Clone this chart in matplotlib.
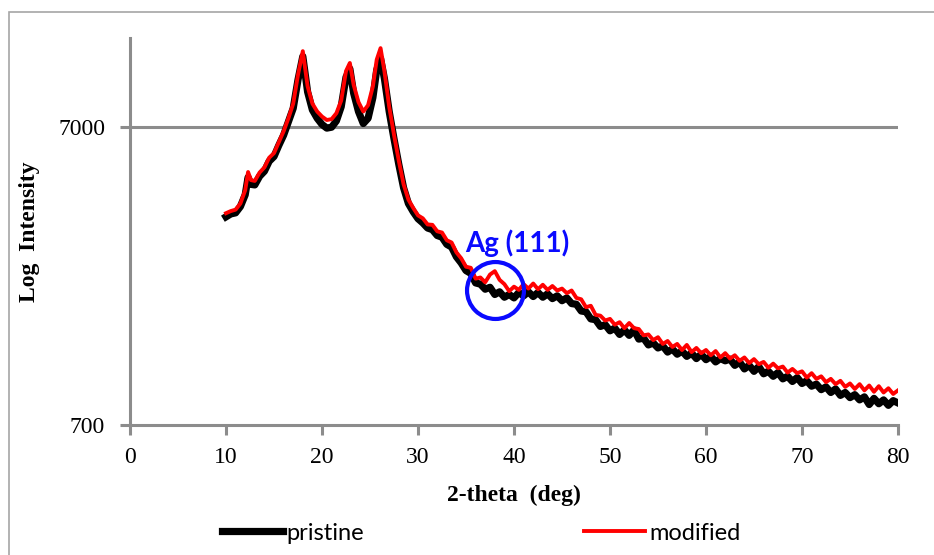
import matplotlib
matplotlib.use("Agg")
import matplotlib.pyplot as plt
from matplotlib.patches import Rectangle

# 2-theta sampling (deg)
two_theta = [10, 10.5, 11, 11.5, 12, 12.3, 12.6, 13, 13.5, 14, 14.5, 15, 15.5, 16,
             16.5, 17, 17.5, 18, 18.5, 19, 19.5, 20, 20.5, 21, 21.5, 22, 22.5, 22.9,
             23.3, 23.8, 24.3, 24.8, 25.3, 25.7, 26.1, 26.5, 27, 27.5, 28, 28.5,
             29, 29.5, 30, 30.5, 31, 31.5, 32, 32.5, 33, 33.5, 34, 34.5, 35, 35.5,
             36, 36.5, 37, 37.5, 38, 38.5, 39, 39.5, 40, 40.5, 41, 41.5, 42, 42.5,
             43, 43.5, 44, 44.5, 45, 45.5, 46, 46.5, 47, 47.5, 48, 48.5, 49, 49.5,
             50, 50.5, 51, 51.5, 52, 52.5, 53, 53.5, 54, 54.5, 55, 55.5, 56, 56.5,
             57, 57.5, 58, 58.5, 59, 59.5, 60, 60.5, 61, 61.5, 62, 62.5, 63, 63.5,
             64, 64.5, 65, 65.5, 66, 66.5, 67, 67.5, 68, 68.5, 69, 69.5, 70, 70.5,
             71, 71.5, 72, 72.5, 73, 73.5, 74, 74.5, 75, 75.5, 76, 76.5, 77, 77.5,
             78, 78.5, 79, 79.5, 80]

pristine = [3500, 3580, 3610, 3790, 4150, 4750, 4500, 4480, 4790, 4980, 5380, 5580, 6080, 6580,
            7300, 8100, 10100, 12100, 9200, 8000, 7500, 7150, 6950, 7000, 7350, 8200, 10300, 11000,
            9100, 7900, 7200, 7500, 8800, 10900, 11900, 10200, 7900, 6400, 5250, 4380,
            3880, 3640, 3450, 3340, 3210, 3170, 3030, 2990, 2830, 2770, 2570, 2450, 2310, 2260,
            2100, 2080, 2000, 2030, 1920, 1960, 1880, 1920, 1870, 1950, 1900, 1960, 1890, 1950,
            1880, 1930, 1860, 1900, 1830, 1870, 1790, 1780, 1690, 1680, 1590, 1580, 1500, 1520,
            1450, 1480, 1410, 1460, 1400, 1460, 1360, 1370, 1300, 1320, 1270, 1290, 1230, 1260,
            1210, 1240, 1190, 1220, 1170, 1210, 1160, 1190, 1140, 1170, 1150, 1165, 1110, 1140,
            1080, 1110, 1060, 1100, 1040, 1060, 1020, 1050, 1000, 1020, 980, 1010, 965, 985,
            945, 960, 920, 940, 900, 925, 880, 900, 865, 885, 850, 870, 820, 860,
            825, 850, 815, 845, 830]

modified = [3600, 3660, 3700, 3880, 4300, 4950, 4650, 4620, 4930, 5130, 5530, 5730, 6230, 6780,
            7500, 8400, 10500, 12600, 9600, 8400, 7900, 7600, 7400, 7450, 7800, 8600, 10800, 11500,
            9700, 8500, 7900, 8300, 9600, 11800, 12900, 10800, 8200, 6600, 5400, 4500,
            4000, 3750, 3540, 3460, 3300, 3290, 3130, 3100, 2920, 2870, 2660, 2540, 2380, 2360,
            2170, 2190, 2110, 2240, 2300, 2150, 2080, 1970, 2040, 1990, 2080, 2010, 2090, 2000,
            2070, 1990, 2050, 1980, 2010, 1940, 1980, 1870, 1850, 1740, 1760, 1640, 1630, 1570,
            1590, 1520, 1550, 1480, 1540, 1480, 1470, 1400, 1410, 1350, 1380, 1310, 1340, 1280,
            1310, 1250, 1300, 1230, 1270, 1220, 1250, 1200, 1240, 1180, 1220, 1170, 1200, 1150,
            1180, 1130, 1165, 1120, 1140, 1090, 1125, 1085, 1100, 1050, 1080, 1045, 1060, 1010,
            1045, 1000, 1020, 975, 1000, 960, 985, 940, 965, 925, 960, 915, 950, 905,
            945, 900, 930, 890, 915]

ag_peak = (38.0, 1986)   # marked Ag (111) reflection
y_ticks = [700, 7000]
x_ticks = [0, 10, 20, 30, 40, 50, 60, 70, 80]

grey = '#8c8c8c'
fig = plt.figure(figsize=(9.34, 5.55), dpi=100)
ax = fig.add_axes([130/934, 1-425/555, 768/934, 387/555])

ax.plot(two_theta, pristine, color='black', lw=5.2, solid_joinstyle='round', label='pristine', zorder=3)
ax.plot(two_theta, modified, color='#ff0000', lw=2.8, solid_joinstyle='round', label='modified', zorder=4)

ax.set_yscale('log')
ax.set_xlim(0, 80)
ax.set_ylim(700, 13950)
ax.set_xticks(x_ticks)
ax.set_yticks(y_ticks)
ax.set_yticklabels([str(v) for v in y_ticks])
ax.minorticks_off()
ax.axhline(7000, color=grey, lw=2.2, zorder=1)

for s in ['top', 'right']:
    ax.spines[s].set_visible(False)
for s in ['left', 'bottom']:
    ax.spines[s].set_color(grey)
    ax.spines[s].set_linewidth(2.2)
ax.tick_params(axis='both', colors=grey, width=2.2, length=7, direction='out')
ax.tick_params(axis='both', labelcolor='black', labelsize=17)
ax.tick_params(axis='x', pad=9)
ax.tick_params(axis='y', pad=11)
for lab in ax.get_xticklabels() + ax.get_yticklabels():
    lab.set_fontfamily('Liberation Serif')

# Ag (111) marker and label
ax.plot([ag_peak[0]], [ag_peak[1]], marker='o', ms=41, mfc='none', mec='#0a0aff', mew=3, zorder=5)
ax.annotate('Ag (111)', xy=ag_peak, xytext=(16, 34), textcoords='offset points',
            ha='center', va='center', color='#0a0aff', fontsize=20,
            fontweight='bold', family='Lato')

fig.text(30/934, 1-232/555, 'Log  Intensity', rotation=90, ha='center', va='center',
         fontsize=17, fontweight='bold', family='Liberation Serif')
fig.text(514/934, 1-495/555, '2-theta  (deg)', ha='center', va='center',
         fontsize=17, fontweight='bold', family='Liberation Serif')

fig.legend(loc='center', bbox_to_anchor=(481/934, 1-533/555), ncol=2, frameon=False,
           prop={'family': 'Lato', 'size': 17}, handlelength=2.6, handletextpad=0.15,
           columnspacing=9.3, borderaxespad=0)

fig.patches.append(Rectangle((9/934, -0.1), 1.2, 1.1-12/555, transform=fig.transFigure,
                             fill=False, ec='#a6a6a6', lw=1.2))

fig.savefig('out.png', dpi=100)
